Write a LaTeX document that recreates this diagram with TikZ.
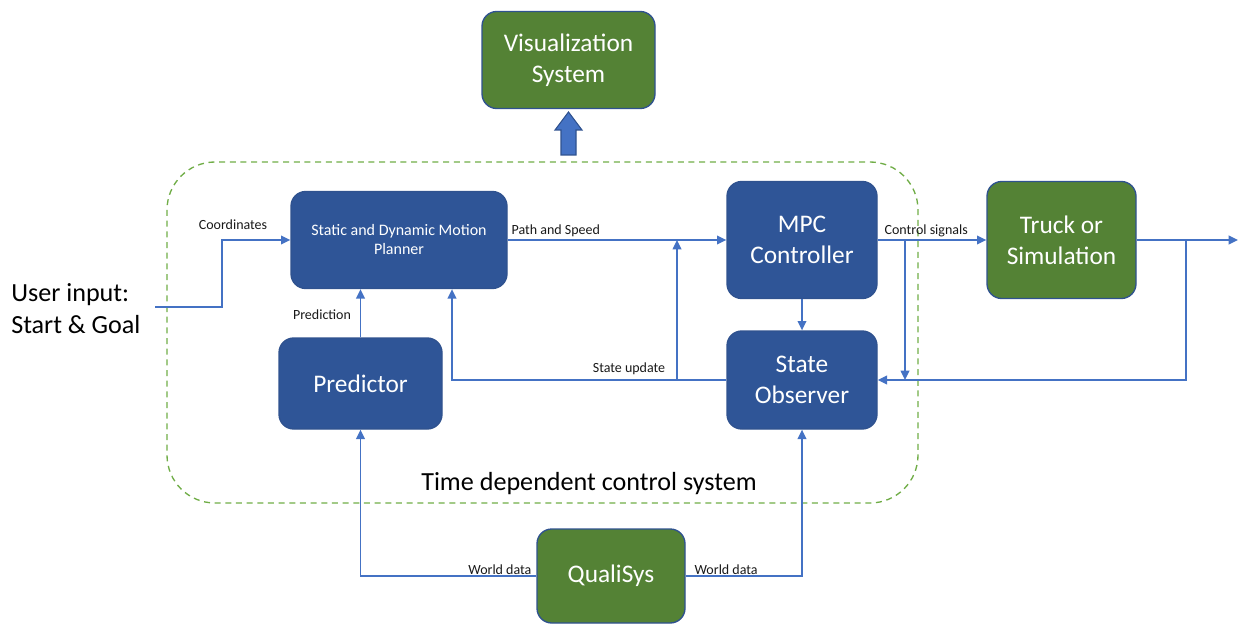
\documentclass[tikz,border=0pt]{standalone}
\usepackage{fontspec}
\setmainfont{Carlito}
\usetikzlibrary{positioning, arrows.meta}

\definecolor{boxblue}{RGB}{47,85,151}
\definecolor{boxgreen}{RGB}{84,130,53}
\definecolor{edgeblue}{RGB}{47,82,143}
\definecolor{lineblue}{RGB}{68,114,196}
\definecolor{dashgreen}{RGB}{112,173,71}

\tikzset{
    block/.style={draw=edgeblue, line width=1pt, rounded corners=11pt, inner sep=0pt,
        align=center, text=white, font=\fontsize{19}{23}\selectfont},
    blueblock/.style={block, fill=boxblue},
    greenblock/.style={block, fill=boxgreen},
    flow/.style={draw=lineblue, line width=1.1pt, -{Triangle[length=7pt,width=6.5pt]}},
    wire/.style={draw=lineblue, line width=1.1pt},
    lbl/.style={font=\fontsize{10.5}{12}\selectfont, text=black!90, inner sep=1pt}
}

\begin{document}
\begin{tikzpicture}[x=0.75pt,y=0.75pt,yscale=-1,xscale=1]
    \useasboundingbox (0,0) rectangle (1239,624);

    %Dashed frame of the control system
    \draw [dashgreen, line width=1pt, dash pattern=on 4.5pt off 3.5pt, rounded corners=36pt] (167,162) rectangle (918,503);
    \node (tdcs) at (589,484) {\fontsize{19.6}{23}\selectfont Time dependent control system};

    %Blocks
    \node [blueblock, minimum width=162pt, minimum height=72.75pt, font=\fontsize{12}{14.25}\selectfont] (planner) at (399,240) {Static and Dynamic Motion\\Planner};
    \node [blueblock, minimum width=112.5pt, minimum height=87.75pt] (mpc) at (802,240) {MPC\\Controller};
    \node [blueblock, minimum width=122.25pt, minimum height=68.25pt] (pred) at (360.5,383.5) {Predictor};
    \node [blueblock, minimum width=112.5pt, minimum height=73.5pt] (obs) at (802,380) {State\\Observer};
    \node [greenblock, minimum width=111.75pt, minimum height=87.75pt] (truck) at (1061.5,240) {Truck or\\Simulation};
    \node [greenblock, minimum width=129.75pt, minimum height=72.75pt] (vis) at (568.5,60) {Visualization\\System};
    \node [greenblock, minimum width=111pt, minimum height=70.5pt] (quali) at (611,576) {QualiSys};

    %User input
    \node [anchor=west, align=left, inner sep=0pt, font=\fontsize{19.6}{24}\selectfont] (user) at (11,309) {User input:\\Start \& Goal};
    \coordinate (uin) at (155,307);
    \coordinate (ubend) at (222,307);
    \draw [flow] (uin) -- (ubend) |- (planner.west);
    \node [lbl] (coord) at (233,225) {Coordinates};

    %Planner -> MPC -> Truck
    \draw [flow] (planner.east) -- (mpc.west);
    \node [lbl, anchor=west] (path) at (510,231) {Path and Speed};
    \draw [flow] (mpc.east) -- (truck.west);
    \node [lbl, anchor=west] (ctrl) at (883,231) {Control signals};
    \coordinate (out) at (1238,240);
    \draw [flow] (truck.east) -- (out);
    \draw [flow] (mpc.south) -- (obs.north);

    %Feedback to the observer
    \coordinate (fb) at (1186,240);
    \draw [flow] (fb) |- (obs.east);
    \coordinate (cb) at (905,240);
    \draw [flow] (cb) -- (cb |- obs.east);

    %State update
    \coordinate (sux) at (452,380);
    \coordinate (sub) at (677,380);
    \draw [flow] (obs.west) -- (sux) -- (sux |- planner.south);
    \draw [flow] (sub) -- (sub |- planner.east);
    \node [lbl] (supd) at (629,369) {State update};

    %Prediction
    \draw [flow] (pred.north) -- (pred.north |- planner.south);
    \node [lbl] (predl) at (322,315) {Prediction};

    %World data
    \draw [flow] (quali.west) -| (pred.south);
    \draw [flow] (quali.east) -| (obs.south);
    \node [lbl, anchor=east] (wd1) at (533,570) {World data};
    \node [lbl, anchor=west] (wd2) at (693,570) {World data};

    %Block arrow to visualization
    \draw [draw=edgeblue, fill=lineblue, line width=0.8pt] (561,155) -- (561,130) -- (555,130) -- (568.5,112) -- (582,130) -- (576,130) -- (576,155) -- cycle;

\end{tikzpicture}
\end{document}
